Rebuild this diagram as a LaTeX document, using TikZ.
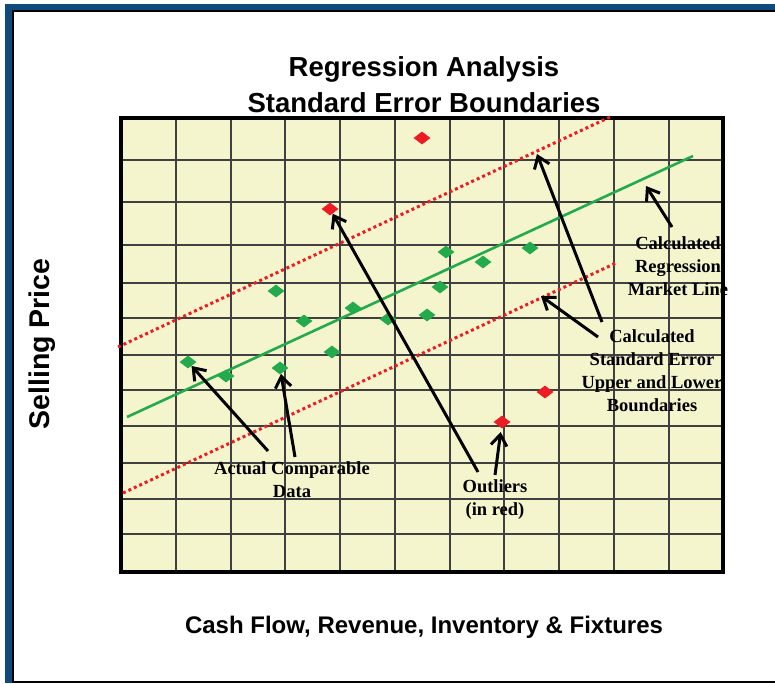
\documentclass[tikz,border=0pt]{standalone}
\usepackage{fontspec}
\setmainfont{Liberation Serif}
\setsansfont{Liberation Sans}
\usetikzlibrary{shapes.geometric,arrows.meta}
\definecolor{plotbg}{RGB}{245,245,205}
\definecolor{framebl}{RGB}{14,74,126}
\definecolor{ptgreen}{RGB}{34,170,76}
\definecolor{ptred}{RGB}{237,28,36}
\tikzset{
  pt/.style={diamond, inner sep=0pt, minimum width=17pt, minimum height=13pt, fill=ptgreen},
  outl/.style={pt, fill=ptred},
  gridl/.style={black!75, line width=1.1pt},
  regline/.style={ptgreen, line width=2.6pt},
  errline/.style={ptred, line width=3pt, dash pattern=on 3pt off 3pt},
  lbl/.style={font=\fontsize{18.5}{23}\selectfont\bfseries, align=center, inner sep=0pt},
  arr/.style={-{Straight Barb[length=11pt,width=16pt]}, line width=3pt},
}
\begin{document}
\begin{tikzpicture}[x=1pt,y=-1pt]
\useasboundingbox (0,0) rectangle (775,683);
\fill[white] (0,0) rectangle (775,683);
\fill[framebl] (5,4) rectangle (775,11);
\fill[framebl] (5,4) rectangle (12,683);
\draw[line width=2pt] (775,11) -- (13,11) -- (13,683);
\draw[line width=1.5pt] (13,682) -- (775,682);
\node[font=\fontsize{27.5}{36}\selectfont\sffamily\bfseries, align=center] (title) at (424,85) {Regression Analysis\\Standard Error Boundaries};
\node[font=\fontsize{28.5}{30}\selectfont\sffamily\bfseries, rotate=90] (ylab) at (42,344) {Selling Price};
\node[font=\fontsize{24}{28}\selectfont\sffamily\bfseries] (xlab) at (424,627) {Cash Flow, Revenue, Inventory \& Fixtures};
\fill[plotbg] (121,118) rectangle (723,572);
\draw[gridl] (176,118) -- (176,572) (231,118) -- (231,572) (285,118) -- (285,572) (340,118) -- (340,572) (395,118) -- (395,572);
\draw[gridl] (450,118) -- (450,572) (504,118) -- (504,572) (559,118) -- (559,572) (614,118) -- (614,572) (669,118) -- (669,572);
\draw[gridl] (121,160) -- (723,160) (121,202) -- (723,202) (121,245) -- (723,245) (121,283) -- (723,283);
\draw[gridl] (121,318) -- (723,318) (121,355) -- (723,355) (121,390) -- (723,390) (121,426) -- (723,426);
\draw[gridl] (121,463) -- (723,463) (121,499) -- (723,499) (121,534) -- (723,534);
\draw[line width=4pt] (121,118) rectangle (723,572);
\coordinate (rl0) at (127,417);
\coordinate (rl1) at (693,156);
\coordinate (up0) at (118,347);
\coordinate (up1) at (610,117);
\coordinate (lo0) at (123,493);
\coordinate (lo1) at (616,263);
\draw[errline] (up0) -- (up1);
\draw[errline] (lo0) -- (lo1);
\draw[regline] (rl0) -- (rl1);
\node[pt] (pt0) at (188,362){};
\node[pt] (pt1) at (226,376){};
\node[pt] (pt2) at (280,368){};
\node[pt] (pt3) at (332,352){};
\node[pt] (pt4) at (276,291){};
\node[pt] (pt5) at (304,321){};
\node[pt] (pt6) at (353,308){};
\node[pt] (pt7) at (388,319){};
\node[pt] (pt8) at (427,315){};
\node[pt] (pt9) at (440,287){};
\node[pt] (pt10) at (446,252){};
\node[pt] (pt11) at (483,262){};
\node[pt] (pt12) at (530,248){};
\node[outl] (out0) at (422,138){};
\node[outl] (out1) at (330,209){};
\node[outl] (out2) at (545,392){};
\node[outl] (out3) at (502,422){};
\node[lbl] (mktlab) at (678,266) {Calculated\\Regression\\Market Line};
\node[lbl] (selab) at (652,371) {Calculated\\Standard Error\\Upper and Lower\\Boundaries};
\node[lbl] (actlab) at (292,480) {Actual Comparable\\Data};
\node[lbl] (outlab) at (495,500) {Outliers\\(in red)};
\coordinate (mkt0) at (672,227);
\coordinate (mkt1) at (646,186);
\coordinate (se0) at (602,322);
\coordinate (se1) at (537,154);
\coordinate (se2) at (598,337);
\coordinate (se3) at (541,296);
\coordinate (act0) at (268,451);
\coordinate (act1) at (295,457);
\coordinate (ol0) at (478,472);
\coordinate (ol1) at (495,475);
\draw[arr] (mkt0) -- (mkt1);
\draw[arr] (se0) -- (se1);
\draw[arr] (se2) -- (se3);
\draw[arr] (act0) -- (pt0);
\draw[arr] (act1) -- (pt2);
\draw[arr] (ol0) -- (out1);
\draw[arr, shorten >=4pt] (ol1) -- (out3);
\end{tikzpicture}
\end{document}
